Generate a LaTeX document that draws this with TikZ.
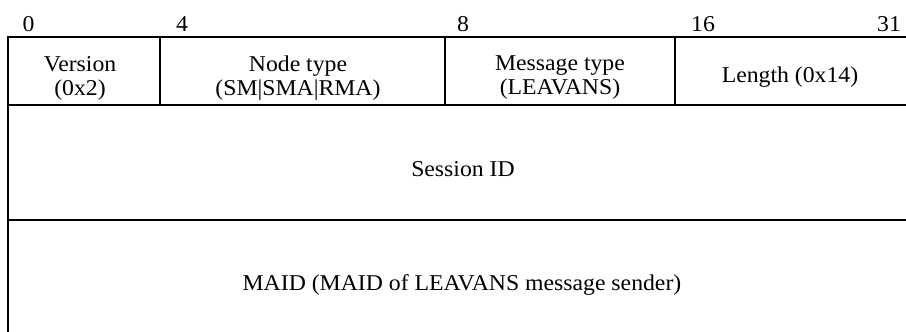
\documentclass[tikz,border=0pt]{standalone}
\usepackage{fontspec}
\setmainfont{Liberation Serif}[FakeStretch=1.05]
\begin{document}
\begin{tikzpicture}[x=1pt,y=1pt,
  cell/.style={draw, line width=2pt, rectangle, inner sep=0pt},
  lbl/.style={inner sep=0pt, align=center, font=\fontsize{22.6}{24}\selectfont},
  bit/.style={inner sep=0pt, anchor=base, font=\fontsize{22.6}{24}\selectfont}]
\useasboundingbox (0,0) rectangle (906,-332);
\clip (0,0) rectangle (906,-332);
% cells
\node[cell, minimum width=152pt, minimum height=68pt] (c1) at (84,-71) {};
\node[cell, minimum width=285pt, minimum height=68pt] (c2) at (302.5,-71) {};
\node[cell, minimum width=230pt, minimum height=68pt] (c3) at (560,-71) {};
\node[cell, minimum width=241pt, minimum height=68pt] (c4) at (795.5,-71) {};
\node[cell, minimum width=908pt, minimum height=115pt] (r2) at (462,-162.5) {};
\node[cell, minimum width=908pt, minimum height=118pt] (r3) at (462,-279) {};
% texts
\node[lbl] (t1) at (80,-78) {Version\\(0x2)};
\node[lbl] (t2) at (298,-78) {Node type\\(SM|SMA|RMA)};
\node[lbl] (t3) at (560,-78) {Message type\\(LEAVANS)};
\node[lbl] (t4) at (790,-77.5) {Length (0x14)};
\node[lbl] (t5) at (463,-169) {Session ID};
\node[lbl] (t6) at (462,-285) {MAID (MAID of LEAVANS message sender)};
% bit positions
\node[bit] (b0) at (28.5,-31) {0};
\node[bit] (b4) at (182,-31) {4};
\node[bit] (b8) at (463,-31) {8};
\node[bit] (b16) at (703,-31) {16};
\node[bit] (b31) at (889,-31) {31};
\end{tikzpicture}
\end{document}
